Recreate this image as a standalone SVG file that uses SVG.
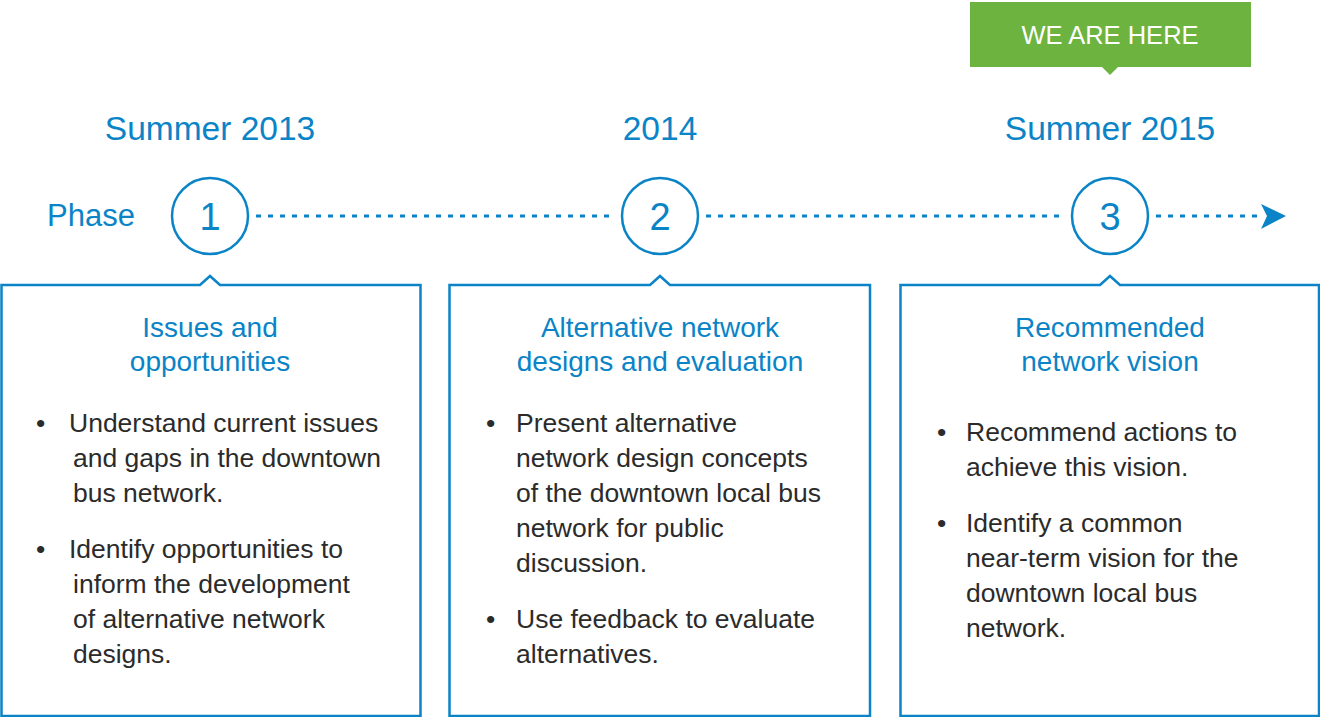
<svg xmlns="http://www.w3.org/2000/svg" width="1320" height="717" viewBox="0 0 1320 717">
<style>
.blue{fill:#0a84c6;font-family:"Liberation Sans",Arial,sans-serif}
.yr{font-size:33.5px;text-anchor:middle}
.ttl{font-size:28px;text-anchor:middle}
.num{font-size:38px;text-anchor:middle}
.body{fill:#2b2b2b;font-family:"Liberation Sans",Arial,sans-serif;font-size:26.5px}
.box{fill:#fff;stroke:#0a84c6;stroke-width:2.5}
.circ{fill:#fff;stroke:#0a84c6;stroke-width:2.5}
.dash{stroke:#0a84c6;stroke-width:3;stroke-dasharray:5 7;fill:none}
</style>
<rect width="1320" height="717" fill="#fff"/>
<g id="connectors">
<line class="dash" x1="256" y1="216" x2="616" y2="216"/>
<line class="dash" x1="706" y1="216" x2="1066" y2="216"/>
<line class="dash" x1="1156" y1="216" x2="1262" y2="216"/>
<path d="M1286,216 L1261,204 L1267,216 L1261,229 Z" fill="#0a84c6"/>
</g>
<g id="we-are-here">
<path d="M970,2 H1251 V67 H1118 L1110,75 L1102,67 H970 Z" fill="#6db33f"/>
<text x="1110" y="44" text-anchor="middle" font-family="'Liberation Sans',Arial,sans-serif" font-size="25.5" fill="#fff">WE ARE HERE</text>
</g>
<g id="phase-label"><text class="blue" x="47" y="226" font-size="31">Phase</text></g>
<g id="phase1">
<text class="blue yr" x="210" y="140">Summer 2013</text>
<circle class="circ" cx="210" cy="216" r="38"/>
<text class="blue num" x="210" y="230">1</text>
<path class="box" d="M1.5,285 H200 L210,276 L220,285 H420.5 V716 H1.5 Z"/>
<text class="blue ttl" x="210" y="337">Issues and</text>
<text class="blue ttl" x="210" y="371">opportunities</text>
<text class="body" x="36" y="432">•</text>
<text class="body" x="69" y="432">Understand current issues</text>
<text class="body" x="73" y="467">and gaps in the downtown</text>
<text class="body" x="73" y="502">bus network.</text>
<text class="body" x="36" y="558">•</text>
<text class="body" x="69" y="558">Identify opportunities to</text>
<text class="body" x="73" y="593">inform the development</text>
<text class="body" x="73" y="628">of alternative network</text>
<text class="body" x="73" y="663">designs.</text>
</g>
<g id="phase2">
<text class="blue yr" x="660" y="140">2014</text>
<circle class="circ" cx="660" cy="216" r="38"/>
<text class="blue num" x="660" y="230">2</text>
<path class="box" d="M449.5,285 H650 L660,276 L670,285 H870 V716 H449.5 Z"/>
<text class="blue ttl" x="660" y="337">Alternative network</text>
<text class="blue ttl" x="660" y="371">designs and evaluation</text>
<text class="body" x="486" y="432">•</text>
<text class="body" x="516" y="432">Present alternative</text>
<text class="body" x="516" y="467">network design concepts</text>
<text class="body" x="516" y="502">of the downtown local bus</text>
<text class="body" x="516" y="537">network for public</text>
<text class="body" x="516" y="572">discussion.</text>
<text class="body" x="486" y="628">•</text>
<text class="body" x="516" y="628">Use feedback to evaluate</text>
<text class="body" x="516" y="663">alternatives.</text>
</g>
<g id="phase3">
<text class="blue yr" x="1110" y="140">Summer 2015</text>
<circle class="circ" cx="1110" cy="216" r="38"/>
<text class="blue num" x="1110" y="230">3</text>
<path class="box" d="M900.5,285 H1100 L1110,276 L1120,285 H1319 V716 H900.5 Z"/>
<text class="blue ttl" x="1110" y="337">Recommended</text>
<text class="blue ttl" x="1110" y="371">network vision</text>
<text class="body" x="937" y="441">•</text>
<text class="body" x="966" y="441">Recommend actions to</text>
<text class="body" x="966" y="476">achieve this vision.</text>
<text class="body" x="937" y="532">•</text>
<text class="body" x="966" y="532">Identify a common</text>
<text class="body" x="966" y="567">near-term vision for the</text>
<text class="body" x="966" y="602">downtown local bus</text>
<text class="body" x="966" y="637">network.</text>
</g>
</svg>
